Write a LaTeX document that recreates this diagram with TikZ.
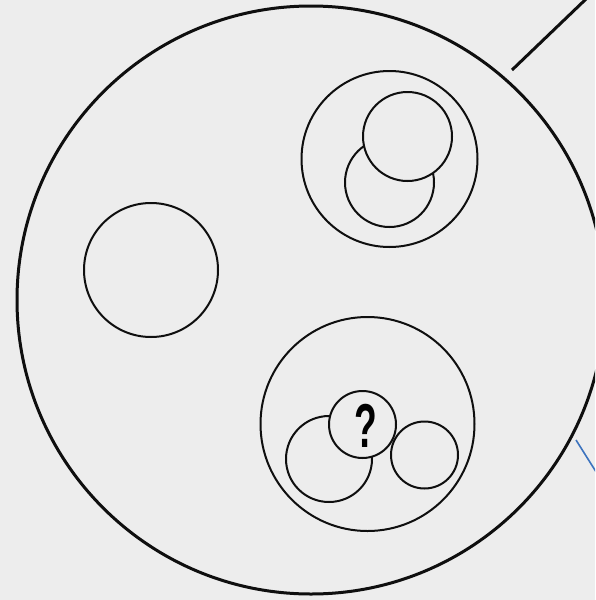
\documentclass[tikz,border=0pt]{standalone}
\usepackage{fontspec}
\setmainfont{Liberation Sans}
\definecolor{paper}{RGB}{237,237,237}
\definecolor{pen}{RGB}{15,15,15}
\definecolor{bluepen}{RGB}{60,115,190}
\begin{document}
\begin{tikzpicture}[x=1pt,y=-1pt,
  ring/.style={circle,draw=pen,fill=paper,line width=2pt,inner sep=0pt,outer sep=0pt,minimum size=#1},
  bigring/.style={circle,draw=pen,fill=paper,line width=3pt,inner sep=0pt,outer sep=0pt,minimum size=#1}]
\fill[paper] (0,0) rectangle (595,600);
\useasboundingbox (0,0) rectangle (595,600);
\clip (0,0) rectangle (595,600);
% outer universe circle
\node[bigring=588pt] (big) at (311,300) {};
% left single circle
\node[ring=134pt] (single) at (151,270) {};
% upper group
\node[ring=176pt] (upper) at (389.5,159) {};
\node[ring=89pt] (upperlow) at (389.5,182.5) {};
\node[ring=89pt] (upperhigh) at (407.5,136.5) {};
% lower group
\node[ring=214pt] (lower) at (367.5,424) {};
\node[ring=86pt] (lowleft) at (329,459) {};
\node[ring=67pt] (lowright) at (424.5,455) {};
\node[ring=67pt] (query) at (362.5,424.5) {};
\node (qmark) at (365.5,426) {\fontsize{62}{62}\selectfont\bfseries\scalebox{0.6}[1]{?}};
% external lines
\coordinate (blackA) at (512,70);
\coordinate (blackB) at (590.2,-5);
\draw[pen,line width=3pt] (blackA) -- (blackB);
\coordinate (blueA) at (576,440);
\coordinate (blueB) at (610,494);
\draw[bluepen,line width=1.6pt] (blueA) -- (blueB);
\end{tikzpicture}
\end{document}
